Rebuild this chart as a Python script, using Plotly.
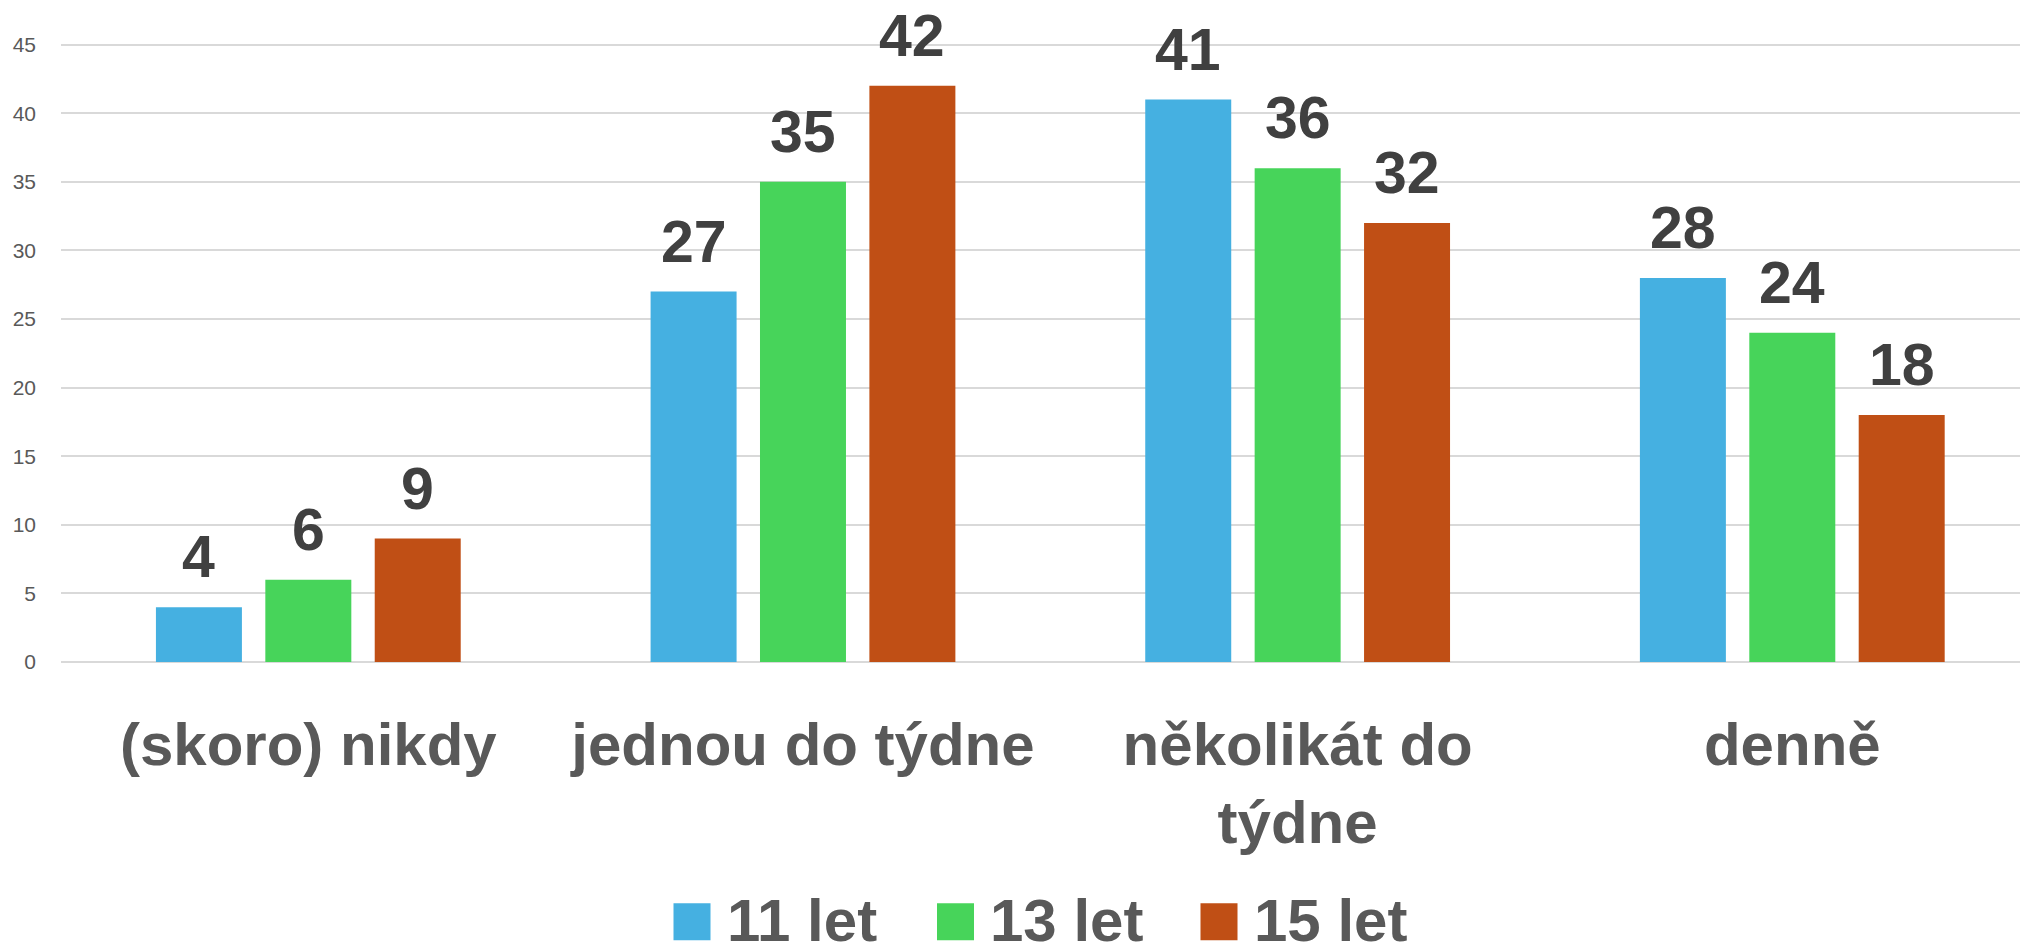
import plotly.graph_objects as go

# ---- data ----
categories = ["(skoro) nikdy", "jednou do týdne", "několikát do<br>týdne", "denně"]
series_names = ["11 let", "13 let", "15 let"]
values_11 = [4, 27, 41, 28]
values_13 = [6, 35, 36, 24]
values_15 = [9, 42, 32, 18]
series_values = [values_11, values_13, values_15]
colors = ["#45B0E1", "#47D45A", "#C04F15"]
y_tick_vals = [0, 5, 10, 15, 20, 25, 30, 35, 40, 45]

# ---- layout geometry (pixels) ----
OFF = 8  # page body offset
W, H = 2028 - OFF, 946 - OFF
M_L, M_R, M_T, M_B = 61 - OFF, 0, 0, 284
plot_w = W - M_L - M_R
plot_h = H - M_T - M_B
x_range = [-0.5, 3.4765]
slot_px = 109.4
y_top = plot_h / 13.718

LABEL_FONT = "Liberation Sans, Arial, sans-serif"
DATA_COLOR = "#404040"
AXIS_COLOR = "#595959"

fig = go.Figure()
for name, vals, col in zip(series_names, series_values, colors):
    fig.add_trace(go.Bar(
        x=categories, y=vals, name=name,
        marker=dict(color=col, line=dict(width=0)),
        showlegend=False,
        hoverinfo="x+y+name",
    ))

annotations = []
# data labels above bars
for i, vals in enumerate(series_values):
    for cat, v in zip(categories, vals):
        annotations.append(dict(
            x=cat, y=v, xref="x", yref="y",
            text=str(v), showarrow=False,
            xanchor="center", yanchor="bottom",
            xshift=(i - 1) * slot_px, yshift=15,
            font=dict(family=LABEL_FONT, size=59, color=DATA_COLOR, weight="bold"),
        ))

# custom legend (large squares); positions given in page pixels
def px_to_paper_x(px):
    return (px - OFF - M_L) / plot_w

def px_to_paper_y(py):
    return (M_T + plot_h - (py - OFF)) / plot_h

shapes = []
leg_start = 673.5
leg_step = 263.5
sq = 37
sq_top = 903.3
for i, (name, col) in enumerate(zip(series_names, colors)):
    x0 = leg_start + i * leg_step
    shapes.append(dict(
        type="rect", xref="paper", yref="paper",
        x0=px_to_paper_x(x0), x1=px_to_paper_x(x0 + sq),
        y0=px_to_paper_y(sq_top + sq), y1=px_to_paper_y(sq_top),
        fillcolor=col, line=dict(width=0), layer="above",
    ))
    annotations.append(dict(
        x=px_to_paper_x(x0 + sq + 14), y=px_to_paper_y(sq_top + sq / 2 - 1),
        xref="paper", yref="paper", text=name, showarrow=False,
        xanchor="left", yanchor="middle",
        font=dict(family=LABEL_FONT, size=60, color=AXIS_COLOR, weight="bold"),
    ))

fig.update_layout(
    width=W, height=H,
    margin=dict(l=M_L, r=M_R, t=M_T, b=M_B, pad=0),
    paper_bgcolor="white", plot_bgcolor="white",
    barmode="group", bargap=0.3365, bargroupgap=0.214,
    annotations=annotations, shapes=shapes,
    showlegend=False,
    xaxis=dict(
        type="category", range=x_range,
        showgrid=False, zeroline=False, showline=False,
        ticks="", ticklabelstandoff=42,
        tickfont=dict(family=LABEL_FONT, size=60, color=AXIS_COLOR, weight="bold"),
    ),
    yaxis=dict(
        range=[0, y_top], tickmode="array", tickvals=y_tick_vals,
        showgrid=True, gridcolor="#D9D9D9", gridwidth=2,
        zeroline=True, zerolinecolor="#D9D9D9", zerolinewidth=2,
        showline=False, ticks="", ticklabelstandoff=24,
        tickfont=dict(family=LABEL_FONT, size=21, color=AXIS_COLOR),
    ),
)

fig.write_html("out.html")
